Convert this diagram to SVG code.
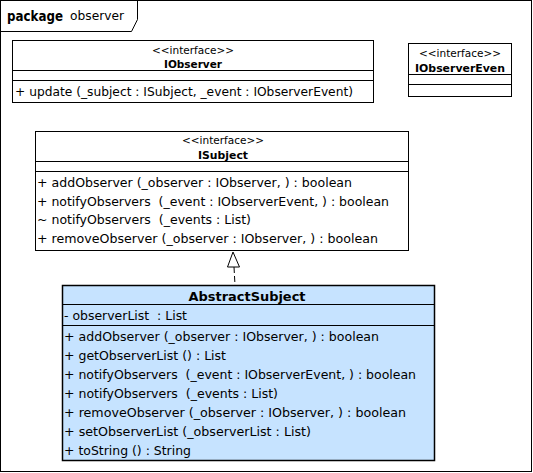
<svg xmlns="http://www.w3.org/2000/svg" width="533" height="473" viewBox="0 0 533 473">
<style>
  text { font-family: "DejaVu Sans", sans-serif; fill: #000; white-space: pre; }
  .st { font-size: 10.5px; text-anchor: middle; }
  .nm { font-size: 11px; font-weight: bold; text-anchor: middle; }
  .nm2 { font-size: 13px; font-weight: bold; text-anchor: middle; }
  .mb { font-size: 12.5px; }
  .box { fill: #fff; stroke: #000; stroke-width: 1; }
  .ln { stroke: #000; stroke-width: 1; }
</style>
<rect x="0" y="0" width="533" height="473" fill="#fff"/>
<g id="package">
  <rect x="0.5" y="0.5" width="531" height="471" fill="none" stroke="#000"/>
  <path d="M0.5 31.5 H131.5 L137.5 19.5 V0.5" fill="none" stroke="#000"/>
  <text x="7" y="21" style="font-size:14px;font-weight:bold" textLength="56" lengthAdjust="spacingAndGlyphs">package</text>
  <text x="70" y="20" style="font-size:12px" textLength="54" lengthAdjust="spacingAndGlyphs">observer</text>
</g>
<g id="IObserver">
  <rect class="box" x="12.5" y="40.5" width="361" height="62"/>
  <text class="st" x="193" y="54" textLength="82" lengthAdjust="spacingAndGlyphs">&lt;&lt;interface&gt;&gt;</text>
  <text class="nm" x="193" y="68" textLength="58" lengthAdjust="spacingAndGlyphs">IObserver</text>
  <line class="ln" x1="13" y1="70.5" x2="373" y2="70.5"/>
  <line class="ln" x1="13" y1="80.5" x2="373" y2="80.5"/>
  <text class="mb" x="15" y="96" textLength="338" lengthAdjust="spacingAndGlyphs">+ update (_subject : ISubject, _event : IObserverEvent)</text>
</g>
<g id="IObserverEvent">
  <rect class="box" x="408.5" y="43.5" width="103" height="53"/>
  <text class="st" x="460" y="57" textLength="82" lengthAdjust="spacingAndGlyphs">&lt;&lt;interface&gt;&gt;</text>
  <text class="nm" x="460" y="72" textLength="90" lengthAdjust="spacingAndGlyphs">IObserverEven</text>
  <line class="ln" x1="409" y1="74.5" x2="511" y2="74.5"/>
  <line class="ln" x1="409" y1="84.5" x2="511" y2="84.5"/>
</g>
<g id="ISubject">
  <rect class="box" x="35.5" y="131.5" width="373" height="119"/>
  <text class="st" x="223" y="144" textLength="82" lengthAdjust="spacingAndGlyphs">&lt;&lt;interface&gt;&gt;</text>
  <text class="nm" x="223" y="159" textLength="50" lengthAdjust="spacingAndGlyphs">ISubject</text>
  <line class="ln" x1="36" y1="161.5" x2="408" y2="161.5"/>
  <line class="ln" x1="36" y1="171.5" x2="408" y2="171.5"/>
  <text class="mb" x="37" y="187" textLength="315" lengthAdjust="spacingAndGlyphs">+ addObserver (_observer : IObserver, ) : boolean</text>
  <text class="mb" x="37" y="206" textLength="352" lengthAdjust="spacingAndGlyphs">+ notifyObservers  (_event : IObserverEvent, ) : boolean</text>
  <text class="mb" x="37" y="224" textLength="214" lengthAdjust="spacingAndGlyphs">~ notifyObservers  (_events : List)</text>
  <text class="mb" x="37" y="243" textLength="341" lengthAdjust="spacingAndGlyphs">+ removeObserver (_observer : IObserver, ) : boolean</text>
</g>
<g id="AbstractSubject">
  <rect x="62.5" y="285.5" width="372" height="175" fill="#C6E3FF" stroke="#000" stroke-width="1.5"/>
  <text class="nm2" x="247" y="301" textLength="117" lengthAdjust="spacingAndGlyphs">AbstractSubject</text>
  <line class="ln" x1="63" y1="304.5" x2="434" y2="304.5"/>
  <text class="mb" x="64" y="320" textLength="123" lengthAdjust="spacingAndGlyphs">- observerList  : List</text>
  <line class="ln" x1="63" y1="325.5" x2="434" y2="325.5"/>
  <text class="mb" x="64" y="341" textLength="315" lengthAdjust="spacingAndGlyphs">+ addObserver (_observer : IObserver, ) : boolean</text>
  <text class="mb" x="64" y="360" textLength="162" lengthAdjust="spacingAndGlyphs">+ getObserverList () : List</text>
  <text class="mb" x="64" y="379" textLength="352" lengthAdjust="spacingAndGlyphs">+ notifyObservers  (_event : IObserverEvent, ) : boolean</text>
  <text class="mb" x="64" y="398" textLength="214" lengthAdjust="spacingAndGlyphs">+ notifyObservers  (_events : List)</text>
  <text class="mb" x="64" y="417" textLength="342" lengthAdjust="spacingAndGlyphs">+ removeObserver (_observer : IObserver, ) : boolean</text>
  <text class="mb" x="64" y="436" textLength="247" lengthAdjust="spacingAndGlyphs">+ setObserverList (_observerList : List)</text>
  <text class="mb" x="64" y="455" textLength="127" lengthAdjust="spacingAndGlyphs">+ toString () : String</text>
</g>
<g id="connectors">
  <line x1="234" y1="267" x2="235" y2="285" stroke="#000" stroke-dasharray="6,3"/>
  <path d="M233 252 L227.5 267 L239.5 267 Z" fill="#fff" stroke="#000"/>
</g>
</svg>
